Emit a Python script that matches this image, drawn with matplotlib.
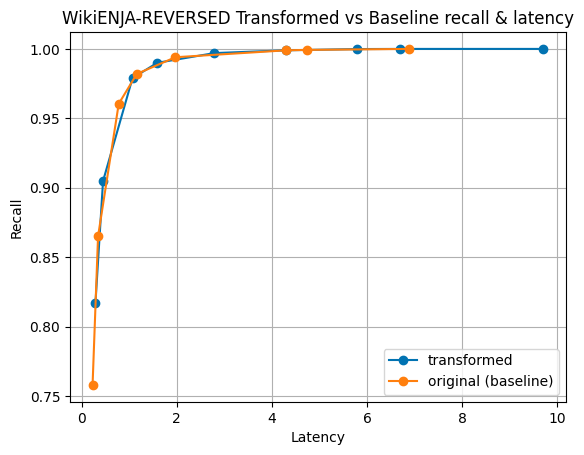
import numpy as np
import matplotlib
matplotlib.use("Agg")
import matplotlib.pyplot as plt

# transformed index
trans_latency = [0.29, 0.45, 1.07, 1.59, 2.79, 4.30, 5.78, 6.70, 9.71]
trans_recall = [0.8167, 0.9048, 0.979, 0.990, 0.997, 0.9990, 0.9999, 1.0, 1.0]

# original (baseline)
base_latency = [0.23, 0.345, 0.78, 1.16, 1.97, 4.30, 4.74, 6.88]
base_recall = [0.758, 0.865, 0.9605, 0.982, 0.994, 0.999, 0.9993, 1.0]

fig, ax = plt.subplots(figsize=(6.4, 4.8), dpi=100)
ax.plot(trans_latency, trans_recall, marker='o', color='#0173b2', label='transformed')
ax.plot(base_latency, base_recall, marker='o', color='#ff7f0e', label='original (baseline)')
ax.set_xlabel('Latency')
ax.set_ylabel('Recall')
ax.set_title('WikiENJA-REVERSED Transformed vs Baseline recall & latency')
ax.grid(True)
ax.legend(loc='lower right')
plt.savefig('out.png', bbox_inches='tight')
